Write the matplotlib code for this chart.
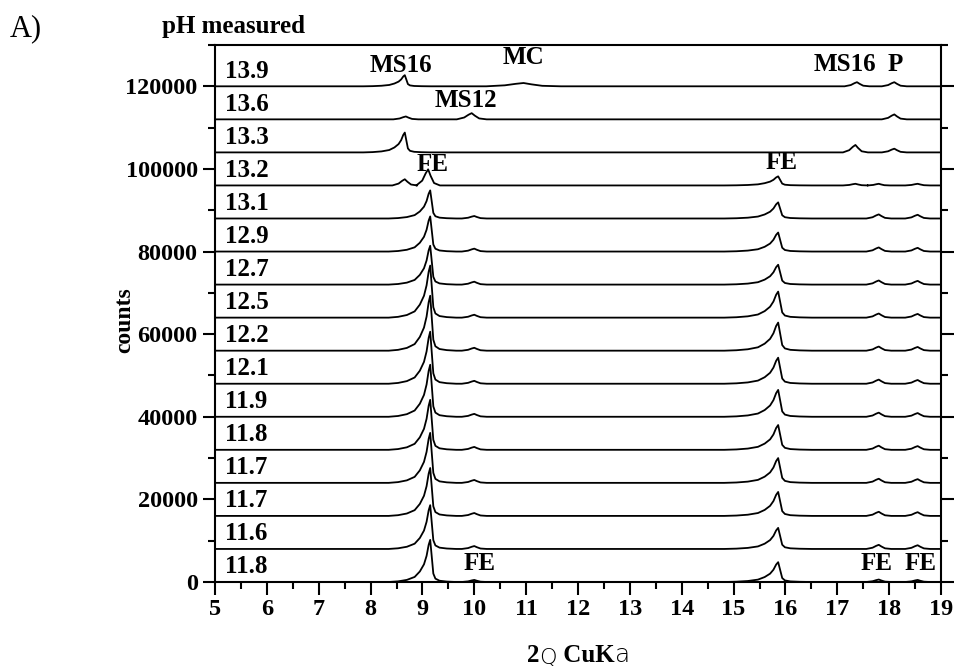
import matplotlib
matplotlib.use("Agg")
import matplotlib.pyplot as plt
from matplotlib.ticker import MultipleLocator

# pH of each pattern, bottom to top
ph_labels = ["11.8", "11.6", "11.7", "11.7", "11.8", "11.9", "12.1", "12.2",
             "12.5", "12.7", "12.9", "13.1", "13.2", "13.3", "13.6", "13.9"]
offset_step = 8000

# peak profiles: offset from the top (deg) and fraction of height
sharp_dx = [-0.80, -0.62, -0.45, -0.30, -0.20, -0.12, -0.07, -0.03, 0.0, 0.03, 0.06, 0.10, 0.18, 0.32, 0.50]
sharp_frac = [0.0, 0.015, 0.05, 0.12, 0.25, 0.42, 0.62, 0.88, 1.0, 0.6, 0.2, 0.08, 0.03, 0.01, 0.0]
bump_dx = [-0.24, -0.12, -0.05, 0.0, 0.05, 0.12, 0.24]
bump_frac = [0.0, 0.3, 0.75, 1.0, 0.6, 0.15, 0.0]
profiles = {"sharp": (sharp_dx, sharp_frac), "bump": (bump_dx, bump_frac)}

# FE reflections for the first 12 patterns (11.8 ... 13.1)
fe_pos = [9.15, 10.0, 15.86, 17.8, 18.55]
fe_kind = ["sharp", "bump", "sharp", "bump", "bump"]
fe_width = [1.0, 1.0, 1.3, 1.0, 1.0]
fe_heights = [
    [10200, 500, 4800, 600, 500],
    [10600, 700, 5100, 1000, 900],
    [11600, 700, 5800, 1000, 900],
    [12100, 700, 6000, 1000, 900],
    [12100, 700, 6000, 1000, 900],
    [12600, 700, 6500, 1000, 900],
    [12600, 700, 6300, 1000, 900],
    [13300, 700, 6800, 1000, 900],
    [12600, 700, 6300, 1000, 900],
    [9400, 700, 4800, 1000, 900],
    [8500, 700, 4600, 1000, 900],
    [6800, 600, 3900, 1000, 900],
]

# remaining patterns (13.2 ... 13.9): (position, height, profile, width factor)
upper_peaks = [
    [(8.66, 1500, "bump", 1.0), (9.11, 3900, "bump", 0.95), (15.86, 2200, "sharp", 1.3),
     (17.35, 400, "bump", 1.0), (17.8, 400, "bump", 0.9), (18.55, 400, "bump", 1.0)],
    [(8.66, 4800, "sharp", 1.0), (17.35, 1800, "bump", 1.0), (18.1, 900, "bump", 1.0)],
    [(8.68, 700, "bump", 1.0), (9.95, 1500, "bump", 1.2), (18.1, 1200, "bump", 1.0)],
    [(8.66, 2700, "sharp", 1.0), (10.95, 800, "bump", 3.0), (17.38, 1000, "bump", 1.0),
     (18.1, 1000, "bump", 1.0)],
]

# phase labels: text, 2theta, counts (bottom of text)
phase_labels = [("MS16", 8.59, 122200), ("MC", 10.94, 124100), ("MS16", 17.15, 122400),
                ("P", 18.11, 122400), ("MS12", 9.84, 113900), ("FE", 9.2, 98200),
                ("FE", 15.93, 98700), ("FE", 10.1, 1700), ("FE", 17.75, 1700),
                ("FE", 18.6, 1700)]

all_peaks = []
for row in fe_heights:
    all_peaks.append([(p, h, k, w) for p, h, k, w in zip(fe_pos, row, fe_kind, fe_width)])
all_peaks += upper_peaks


def trace_points(peaks):
    xs, ys = [5.0], [0.0]
    for c, h, kind, w in sorted(peaks):
        dx, fr = profiles[kind]
        xs += [c + d * w for d in dx]
        ys += [h * f for f in fr]
    xs.append(19.0)
    ys.append(0.0)
    return xs, ys


serif = "Liberation Serif"
fig = plt.figure(figsize=(9.59, 6.66), dpi=100)
ax = fig.add_axes([215 / 959, 1 - 582 / 666, 726 / 959, 537 / 666])

for i, peaks in enumerate(all_peaks):
    xs, ys = trace_points(peaks)
    base = i * offset_step
    ax.plot(xs, [base + y for y in ys], color="black", lw=1.3)
    ax.text(5.2, base + 900, ph_labels[i], family=serif, fontweight="bold",
            fontsize=18, ha="left", va="bottom")

for txt, x, y in phase_labels:
    ax.text(x, y, txt, family=serif, fontweight="bold", fontsize=18,
            ha="center", va="bottom")

ax.set_xlim(5, 19)
ax.set_ylim(0, 130000)
ax.xaxis.set_major_locator(MultipleLocator(1))
ax.xaxis.set_minor_locator(MultipleLocator(0.5))
ax.yaxis.set_major_locator(MultipleLocator(20000))
ax.yaxis.set_minor_locator(MultipleLocator(10000))
ax.set_yticks(range(0, 120001, 20000))
ax.tick_params(which="major", direction="out", length=9, width=1.5)
ax.tick_params(which="minor", direction="out", length=5, width=1.5)
ax.tick_params(axis="y", which="both", right=True, labelright=False)
ax.yaxis.set_tick_params(which="both", length=4, width=1.2, right=True, left=False)
ax.tick_params(axis="y", which="major", left=True, length=9, width=1.5)
ax.tick_params(axis="y", which="minor", left=True, length=5, width=1.5)
for lab in ax.get_xticklabels() + ax.get_yticklabels():
    lab.set_family(serif)
    lab.set_fontweight("bold")
    lab.set_fontsize(17.5)
for s in ax.spines.values():
    s.set_linewidth(1.5)

ax.set_ylabel("counts", family=serif, fontweight="bold", fontsize=17)
ax.yaxis.set_label_coords(-0.11, 0.488)

fig.text(10 / 959, 1 - 29 / 666, "A)", family=serif, fontsize=22, va="center")
fig.text(162 / 959, 1 - 27 / 666, "pH measured", family=serif, fontweight="bold",
         fontsize=18, va="center")

# x label: "2Q CuKa" with the symbol glyphs in a light sans
t1 = fig.text(527 / 959, 1 - 662 / 666, "2", family=serif, fontweight="bold",
              fontsize=18, va="baseline")
t2 = ax.annotate("Q", xy=(1, 0), xycoords=t1, family="DejaVu Sans", fontweight="light",
                 fontsize=16, va="bottom", annotation_clip=False)
t3 = ax.annotate(" CuK", xy=(1, 0), xycoords=t2, family=serif, fontweight="bold",
                 fontsize=18, va="bottom", annotation_clip=False)
ax.annotate("a", xy=(1, 0), xycoords=t3, family="DejaVu Sans", fontweight="light",
            fontsize=18, va="bottom", annotation_clip=False)

fig.savefig("out.png", dpi=100)
